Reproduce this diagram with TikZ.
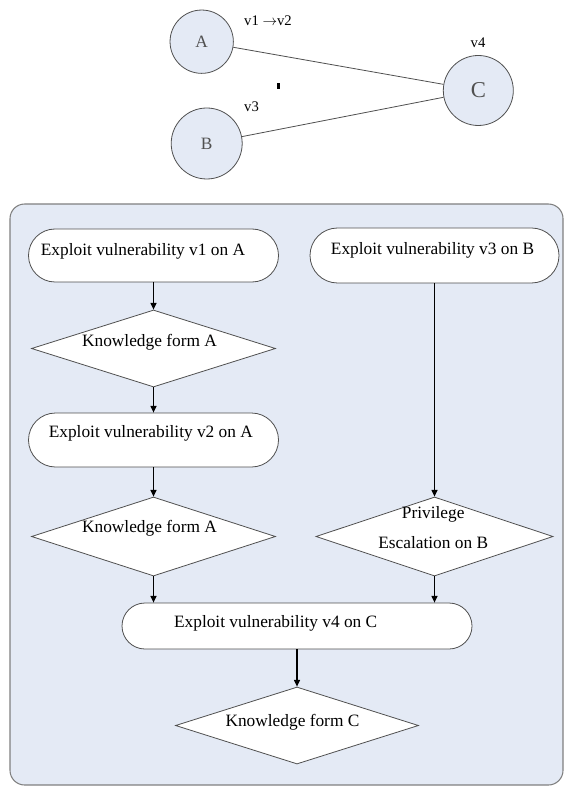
\documentclass[tikz,border=0pt]{standalone}
\usepackage{fontspec}
\setmainfont{Liberation Serif}
\usetikzlibrary{shapes.geometric,shapes.misc,arrows.meta}
\definecolor{paleblue}{HTML}{E4EAF5}
\definecolor{edgegray}{HTML}{505050}
\tikzset{
	host/.style={circle,draw=edgegray,fill=paleblue,line width=0.6pt,inner sep=0pt},
	exploit/.style={rounded rectangle,draw=edgegray,fill=white,line width=0.6pt,inner sep=0pt},
	gain/.style={diamond,aspect=3.2,draw=edgegray,fill=white,line width=0.6pt,inner sep=0pt},
	txt/.style={font=\fontsize{13}{23}\selectfont,align=center},
	flow/.style={-{Triangle[length=5pt,width=4.5pt]},line width=0.8pt}
}
\begin{document}
\begin{tikzpicture}[x=0.75pt,y=-0.75pt]
	\useasboundingbox (0,0) rectangle (566,787);
	% hosts
	\draw[edgegray,line width=0.6pt] (201.7,41.7) node[host,minimum size=47.5pt,font=\fontsize{13}{15}\selectfont] (A) {A}
		(206.7,143.5) node[host,minimum size=53.25pt,font=\fontsize{13}{15}\selectfont] (B) {B}
		(478.3,90.5) node[host,minimum size=52.5pt,font=\fontsize{17}{19}\selectfont] (C) {C};
	\draw[edgegray,line width=0.6pt] (A) -- (C);
	\draw[edgegray,line width=0.6pt] (B) -- (C);
	\node[font=\fontsize{11}{13}\selectfont] (vab) at (268,21) {v1 $\rightarrow$v2};
	\node[font=\fontsize{11}{13}\selectfont] (vb) at (251.5,107) {v3};
	\node[font=\fontsize{11}{13}\selectfont] (vc) at (478,43) {v4};
	\fill (277.3,83.3) rectangle (280,89.3);
	% attack flow
	\draw[gray,fill=paleblue,line width=0.8pt,rounded corners=11pt] (10,204) rectangle (563,785);
	\node[exploit,minimum width=187.5pt,minimum height=39.75pt,
		label={[txt,xshift=-7.9pt,yshift=3pt]center:Exploit vulnerability v1 on A}] (v1) at (153.5,255.5) {};
	\node[gain,minimum width=183pt,minimum height=57.75pt,
		label={[txt,xshift=-3pt,yshift=5pt]center:Knowledge form A}] (d1) at (153.5,348.5) {};
	\node[exploit,minimum width=187.5pt,minimum height=40.5pt,
		label={[txt,xshift=-2pt,yshift=5pt]center:Exploit vulnerability v2 on A}] (v2) at (153.5,440) {};
	\node[gain,minimum width=183pt,minimum height=59.25pt,
		label={[txt,xshift=-3pt,yshift=6pt]center:Knowledge form A}] (d2) at (153.5,536.5) {};
	\node[exploit,minimum width=186.75pt,minimum height=41.25pt,
		label={[txt,xshift=-1.5pt,yshift=4pt]center:Exploit vulnerability v3 on B}] (v3) at (434.5,255.5) {};
	\node[gain,minimum width=177.75pt,minimum height=59.25pt,
		label={[txt,xshift=-1pt,yshift=6.75pt]center:Privilege\\Escalation on B}] (d3) at (434.5,536.5) {};
	\node[exploit,minimum width=262.5pt,minimum height=34.5pt,
		label={[txt,xshift=-16pt,yshift=2.3pt]center:Exploit vulnerability v4 on C}] (v4) at (297,626) {};
	\node[gain,minimum width=182.25pt,minimum height=57.75pt,
		label={[txt,xshift=-3.4pt,yshift=2.6pt]center:Knowledge form C}] (dC) at (297,725.5) {};
	\draw[flow] (v1.south) -- (d1.north);
	\draw[flow] (d1.south) -- (v2.north);
	\draw[flow] (v2.south) -- (d2.north);
	\draw[flow] (d2.south) -- (d2.south |- v4.north);
	\draw[flow] (v3.south) -- (d3.north);
	\draw[flow] (d3.south) -- (d3.south |- v4.north);
	\draw[flow] (v4.south) -- (dC.north);
\end{tikzpicture}
\end{document}
